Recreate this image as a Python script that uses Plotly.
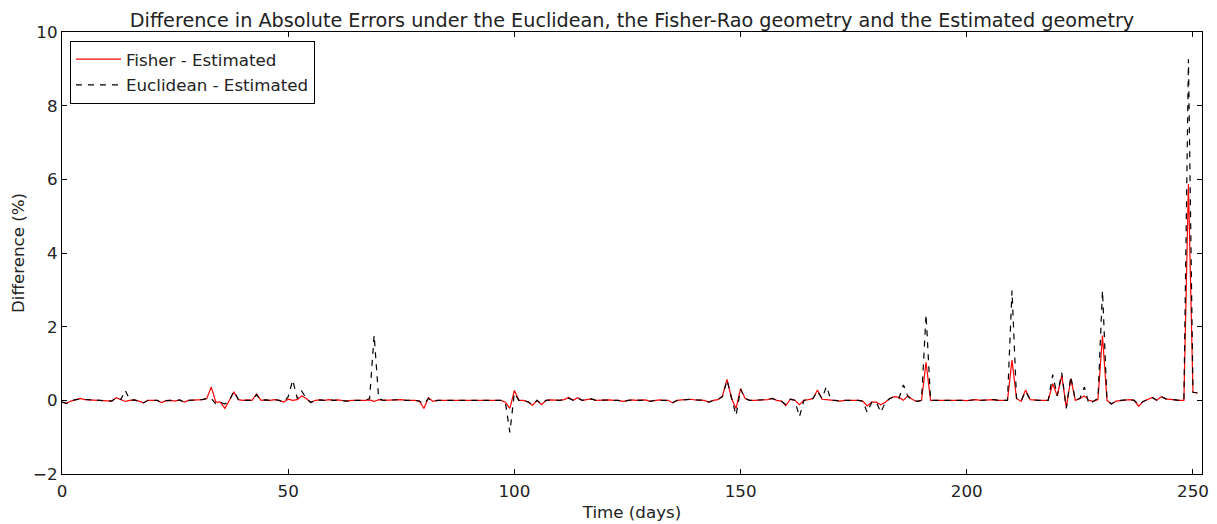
import plotly.graph_objects as go

days = list(range(252))

fisher_minus_estimated = [
    -0.05, -0.08, -0.02, 0.02, 0.05, 0.02, 0.01, 0.0, 0.01, 0.0,
    -0.01, -0.02, 0.07, 0.02, -0.03, 0.0, 0.01, -0.02, -0.07, 0.0,
    0.01, 0.0, -0.06, -0.01, 0.0, -0.02, 0.01, -0.05, 0.0, 0.01,
    0.0, 0.02, 0.05, 0.36, -0.05, -0.05, -0.22, 0.0, 0.22, 0.02,
    0.0, 0.01, 0.0, 0.17, 0.0, 0.01, 0.0, 0.02, 0.0, -0.05,
    0.03, 0.0, 0.02, 0.12, 0.05, -0.06, 0.0, 0.01, 0.0, 0.02,
    0.0, 0.01, 0.0, -0.02, 0.0, 0.01, 0.0, 0.0, 0.01, -0.03,
    0.02, 0.0, 0.01, 0.0, 0.01, 0.02, 0.0, 0.01, 0.0, -0.02,
    -0.22, 0.07, -0.03, 0.0, 0.01, 0.0, 0.0, 0.01, 0.0, 0.0,
    0.01, 0.0, 0.0, 0.01, 0.0, 0.0, 0.01, 0.0, -0.05, -0.22,
    0.27, 0.0, 0.0, -0.04, -0.14, 0.0, -0.12, 0.0, 0.01, 0.0,
    0.0, 0.02, 0.08, 0.0, 0.07, 0.0, 0.02, 0.04, 0.0, 0.01,
    0.0, 0.01, 0.0, 0.0, -0.03, 0.0, 0.01, 0.0, 0.0, 0.01,
    -0.03, 0.0, 0.01, 0.0, 0.0, -0.07, 0.0, 0.01, 0.02, 0.03,
    0.01, 0.0, 0.0, -0.05, 0.0, 0.02, 0.12, 0.57, 0.05, -0.22,
    0.32, 0.05, 0.0, 0.0, 0.01, 0.0, 0.02, 0.05, 0.0, -0.02,
    -0.14, 0.03, 0.0, -0.12, 0.0, 0.02, 0.05, 0.28, 0.03, 0.02,
    0.0, 0.0, -0.02, 0.0, 0.01, 0.0, 0.0, -0.02, -0.15, -0.05,
    -0.05, -0.12, -0.05, 0.05, 0.1, 0.08, 0.0, 0.12, 0.02, -0.03,
    0.0, 1.03, 0.0, 0.0, 0.0, 0.01, 0.0, 0.02, 0.0, 0.0,
    -0.01, 0.0, 0.02, 0.0, 0.01, 0.0, 0.02, 0.0, 0.0, 0.0,
    1.09, 0.05, -0.03, 0.28, 0.02, 0.0, 0.0, 0.0, 0.0, 0.45,
    0.12, 0.68, -0.2, 0.59, 0.0, 0.05, 0.12, 0.0, -0.03, 0.02,
    1.76, 0.0, -0.1, -0.02, 0.0, 0.02, 0.02, 0.0, -0.16, -0.03,
    0.02, 0.08, 0.0, 0.1, 0.04, 0.02, 0.0, 0.0, 0.0, 5.87,
    0.22, 0.2,
]

euclidean_minus_estimated = [
    -0.05, -0.08, -0.02, 0.02, 0.03, 0.02, 0.01, 0.0, 0.01, 0.0,
    -0.01, -0.02, 0.07, 0.02, 0.27, 0.0, 0.01, -0.02, -0.07, 0.0,
    0.01, 0.0, -0.06, -0.01, 0.0, -0.02, 0.01, -0.05, 0.0, 0.01,
    0.0, 0.02, 0.05, 0.05, -0.1, -0.05, -0.1, 0.0, 0.25, 0.02,
    0.0, 0.01, 0.0, 0.15, 0.0, 0.01, 0.0, 0.02, 0.0, -0.05,
    0.1, 0.55, 0.05, 0.25, 0.05, -0.06, 0.0, 0.01, 0.0, 0.02,
    0.0, 0.01, 0.0, -0.02, 0.0, 0.01, 0.0, 0.0, 0.05, 1.77,
    0.05, 0.0, 0.01, 0.0, 0.01, 0.02, 0.0, 0.01, 0.0, -0.02,
    -0.1, 0.05, -0.03, 0.0, 0.01, 0.0, 0.0, 0.01, 0.0, 0.0,
    0.01, 0.0, 0.0, 0.01, 0.0, 0.0, 0.01, 0.0, -0.05, -0.87,
    0.2, 0.0, 0.0, -0.04, -0.12, 0.0, -0.1, 0.0, 0.01, 0.0,
    0.0, 0.02, 0.06, 0.0, 0.06, 0.0, 0.02, 0.04, 0.0, 0.01,
    0.0, 0.01, 0.0, 0.0, -0.05, 0.0, 0.01, 0.0, 0.0, 0.01,
    -0.03, 0.0, 0.01, 0.0, 0.0, -0.06, 0.0, 0.01, 0.02, 0.03,
    0.01, 0.0, 0.0, -0.05, 0.0, 0.02, 0.1, 0.55, 0.05, -0.41,
    0.3, 0.05, 0.0, 0.0, 0.01, 0.0, 0.02, 0.05, 0.0, -0.02,
    -0.12, 0.03, 0.0, -0.45, 0.0, 0.02, 0.05, 0.25, 0.05, 0.38,
    0.0, 0.0, -0.02, 0.0, 0.01, 0.0, 0.0, -0.02, -0.33, -0.05,
    -0.05, -0.33, -0.05, 0.05, 0.1, 0.05, 0.42, 0.1, 0.02, -0.03,
    0.0, 2.33, 0.0, 0.0, 0.0, 0.01, 0.0, 0.02, 0.0, 0.0,
    -0.01, 0.0, 0.02, 0.0, 0.01, 0.0, 0.02, 0.0, 0.0, 0.0,
    2.98, 0.05, -0.03, 0.25, 0.02, 0.0, 0.0, 0.0, 0.0, 0.7,
    0.12, 0.75, -0.22, 0.65, 0.0, 0.05, 0.36, -0.1, -0.03, 0.05,
    2.98, 0.0, -0.1, -0.02, 0.0, 0.02, 0.02, 0.0, -0.12, -0.03,
    0.02, 0.08, 0.0, 0.1, 0.04, 0.02, 0.0, 0.0, 0.0, 9.26,
    0.22, 0.2,
]

x_ticks = [0, 50, 100, 150, 200, 250]
y_ticks = [-2, 0, 2, 4, 6, 8, 10]

fig = go.Figure()
fig.add_trace(go.Scatter(
    x=days, y=fisher_minus_estimated, mode="lines", name="Fisher - Estimated",
    legendgroup="a", line=dict(color="red", width=1.2),
))
fig.add_trace(go.Scatter(
    x=days, y=euclidean_minus_estimated, mode="lines", name="Euclidean - Estimated",
    legendgroup="b", line=dict(color="black", width=1.2, dash="6px,6px"),
))

axis_common = dict(
    showline=True, linecolor="black", linewidth=1.2, mirror="ticks",
    ticks="inside", ticklen=5, tickcolor="black", tickwidth=1,
    showgrid=False, zeroline=False, automargin=False,
    tickfont=dict(family="DejaVu Sans", size=16.7, color="#222222"),
)

# The page body adds an 8px offset; the figure is sized to fit the 1217x524 window.
fig.update_layout(
    width=1209, height=516,
    margin=dict(l=54, r=15, t=24, b=50),
    paper_bgcolor="white", plot_bgcolor="white",
    font=dict(family="DejaVu Sans", color="#222222"),
    title=dict(
        text="Difference in Absolute Errors under the Euclidean, the Fisher-Rao geometry and the Estimated geometry",
        x=0.5, xref="paper", xanchor="center", y=0.977, yanchor="middle",
        font=dict(family="DejaVu Sans", size=19.2, color="#222222"),
    ),
    xaxis=dict(
        range=[0, 252], tickvals=x_ticks, ticktext=[str(v) for v in x_ticks],
        title=dict(text="Time (days)", font=dict(size=16.7), standoff=6),
        ticklabelstandoff=2,
        **axis_common,
    ),
    yaxis=dict(
        range=[-2, 10], tickvals=y_ticks,
        ticktext=[("\u2212" + str(-v)) if v < 0 else str(v) for v in y_ticks],
        title=dict(text="Difference (%)", font=dict(size=16.7), standoff=6),
        **axis_common,
    ),
    legend=dict(
        x=0.007, y=0.98, xanchor="left", yanchor="top",
        bordercolor="black", borderwidth=1, bgcolor="white",
        font=dict(family="DejaVu Sans", size=16.7, color="#222222"),
        traceorder="grouped", tracegroupgap=1, itemwidth=45,
    ),
    showlegend=True,
)

fig.write_html("out.html")
